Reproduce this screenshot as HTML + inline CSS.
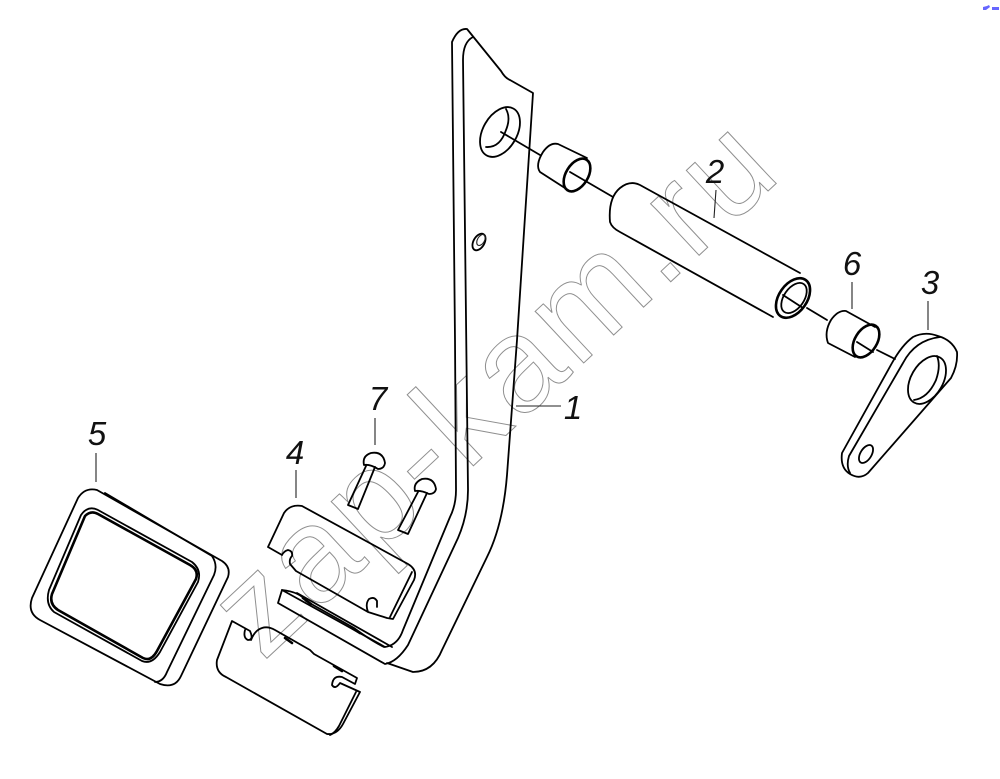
<!DOCTYPE html>
<html><head><meta charset="utf-8"><style>
html,body{margin:0;padding:0;background:#fff}
svg{display:block}
.l{fill:none;stroke:#000;stroke-width:1.8;stroke-linejoin:round;stroke-linecap:round}
.h{fill:none;stroke:#000;stroke-width:2.6;stroke-linejoin:round;stroke-linecap:round}
.t{fill:none;stroke:#222;stroke-width:1.1}
.n{font-family:"Liberation Sans",sans-serif;font-style:italic;font-size:33px;fill:#111;text-anchor:middle}
.w{font-family:"Liberation Sans",sans-serif;font-size:134px;letter-spacing:4.5px;fill:none;stroke:#8f8f8f;stroke-width:1}
</style></head><body>
<svg width="1000" height="779" viewBox="0 0 1000 779" xmlns="http://www.w3.org/2000/svg">
<rect width="1000" height="779" fill="#fff"/>
<text class="w" transform="translate(263,662) rotate(-43)">zap-kam.ru</text>
<!-- pedal arm -->
<path class="l" d="M387,663 L413,672 Q433,672 442,650 L487,557 Q503,525 507,475 L517,340 L533,93 L510,80 Q505,78 501,71 L467,29 Q458,28 452,42 L455,340 L456,490 Q456,505 450,517 L403,630 Q398,645 385,647 L282,590 L278,603 L385,664 Q397,662 408,645 L458,538 Q468,515 468,490 L463,60 Q463,42 473,37"/>
<path class="l" d="M297,593 L392,647"/>
<!-- top hole -->
<ellipse class="l" cx="500" cy="132" rx="17" ry="27" transform="rotate(30 500 132)"/>
<path class="l" d="M486,147 Q500,148 506,130 Q511,118 506,109"/>
<path class="l" d="M501,132 L540,155"/>
<ellipse class="l" cx="479" cy="242" rx="5.5" ry="9" transform="rotate(30 479 242)"/>
<ellipse class="t" cx="481" cy="240" rx="3.5" ry="6" transform="rotate(30 481 240)"/>
<!-- bushing -->
<path class="l" d="M587,158 L558,144 Q550,142 543,152 Q535,165 540,172 L568,190"/>
<ellipse class="h" cx="577" cy="175" rx="11" ry="18" transform="rotate(32 577 175)"/>
<path class="l" d="M570,172 L613,197"/>
<!-- tube -->
<path class="l" d="M800,273 L640,185 Q630,180 620,188 Q608,198 610,222 Q612,228 620,232 L773,317"/>
<ellipse class="h" cx="793" cy="298" rx="14" ry="22" transform="rotate(35 793 298)"/>
<ellipse class="l" cx="794" cy="298" rx="10" ry="17" transform="rotate(35 794 298)"/>
<path class="l" d="M783,295 L803,308 M807,308 L827,320"/>
<!-- bushing 6 -->
<path class="l" d="M875,327 L846,311 Q838,310 831,320 Q824,332 828,343 L855,357"/>
<ellipse class="h" cx="866" cy="341" rx="11" ry="18" transform="rotate(32 866 341)"/>
<path class="l" d="M857,342 L873,352 M877,350 L895,359"/>
<!-- part 3 -->
<path class="l" d="M892,363 Q902,345 913,337 Q925,331 938,336 Q952,340 957,352 Q958,365 951,378 L868,473 Q860,480 850,474 Q840,468 842,453 Z"/>
<path class="l" d="M850,473 Q846,466 849,456 L903,363 Q915,340 940,337"/>
<ellipse class="l" cx="927" cy="380" rx="16" ry="26" transform="rotate(30 927 380)"/>
<path class="l" d="M914,400 Q928,398 936,380 Q941,366 937,356"/>
<ellipse class="l" cx="866" cy="454" rx="5.5" ry="10" transform="rotate(32 866 454)"/>
<!-- rivets -->
<path class="l" d="M364,465 Q362,456 371,453 Q383,451 385,463 Q384,469 378,469 Q370,464 364,465 Z"/>
<path class="l" d="M366,466 L348,505 L358,509 L375,467"/>
<path class="l" d="M415,491 Q413,483 422,479 Q434,477 436,489 Q435,494 429,494 Q421,490 415,491 Z"/>
<path class="l" d="M418,492 L398,530 L408,534 L427,493"/>
<!-- part 4 -->
<path class="l" d="M268,547 L282,555 Q284,551 288,550 Q293,551 292,556 Q289,559 290,564 L296,571 L368,612 Q365,604 369,599 Q374,596 377,601 L377,607 M368,612 L387,618 L393,619 L414,580 Q418,570 408,564 L302,506 Q290,504 284,513 L268,547"/>
<path class="l" d="M412,572 L390,617"/>
<path class="l" d="M282,590 Q300,592 306,601 L354,628 Q370,640 384,647"/>
<path class="h" d="M303,598 L311,604 M352,628 L360,633"/>
<!-- part 4 lower -->
<path class="l" d="M217,660 L232,621 L250,631 Q254,640 248,640 Q243,638 245,630 M251,640 Q255,630 262,628 Q268,626 275,630 L310,650 L314,654 L357,678 L355,684 L342,677 Q333,675 332,685 Q335,690 340,683 L360,692 L343,724 Q337,735 327,734 L226,677 Q215,672 217,660"/>
<path class="l" d="M356,692 L339,726 Q335,733 330,735"/>
<path class="h" d="M285,638 L292,643 M334,666 L342,671"/>
<!-- part 5 -->
<path class="l" d="M78,498 Q85,487 97,490 L222,561 Q231,567 228,577 L181,676 Q175,689 160,684 L40,620 Q27,613 32,598 Z"/>
<path class="l" d="M105,493 L212,556 Q218,565 214,575 L167,672 Q163,682 155,682"/>
<path class="h" d="M85,516 Q91,510 98,514 L190,565 Q199,570 196,579 L157,651 Q151,662 143,658 L58,610 Q49,604 52,594 Z"/>
<path class="l" d="M81,515 Q88,505 98,510 L192,562 Q202,570 198,582 L160,652 Q152,665 142,661 L54,612 Q45,604 49,590 Z"/>
<!-- leaders -->
<path class="t" d="M716,190 L714,218 M852,282 L852,309 M928,301 L928,330 M516,406 L561,406 M375,418 L375,445 M296,470 L296,498 M96,453 L96,482"/>
<text class="n" x="715" y="183">2</text>
<text class="n" x="852" y="275">6</text>
<text class="n" x="930" y="294">3</text>
<text class="n" x="573" y="419">1</text>
<text class="n" x="378" y="410">7</text>
<text class="n" x="295" y="464">4</text>
<text class="n" x="97" y="445">5</text>
<!-- corner mark -->
<path d="M983,10 L983,7 L987,6 L989,5 L990,7 L986,10 Z M992,7 H999 V10 H992 Z" fill="#6666ff"/>
</svg>
</body></html>
